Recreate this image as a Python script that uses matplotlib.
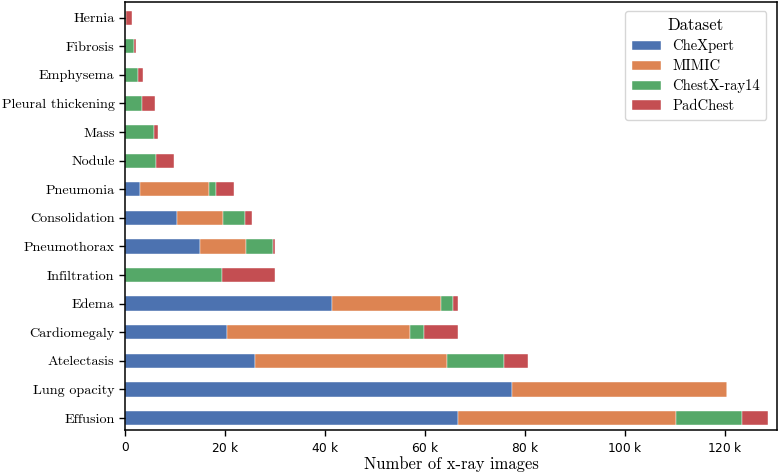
import matplotlib
matplotlib.use("Agg")
import matplotlib.pyplot as plt
import numpy as np
from matplotlib.ticker import EngFormatter

# data, values in thousands (cumulative stacking done below)
pathologies = ["Effusion", "Lung opacity", "Atelectasis", "Cardiomegaly", "Edema",
               "Infiltration", "Pneumothorax", "Consolidation", "Pneumonia", "Nodule",
               "Mass", "Pleural thickening", "Emphysema", "Fibrosis", "Hernia"]
datasets = ["CheXpert", "MIMIC", "ChestX-ray14", "PadChest"]

chexpert = [66.6, 77.3, 26.0, 20.4, 41.3, 0.0, 15.0, 10.3, 3.0, 0.0, 0.0, 0.0, 0.0, 0.0, 0.0]
mimic = [43.6, 43.0, 38.4, 36.6, 21.9, 0.0, 9.2, 9.2, 13.7, 0.0, 0.0, 0.0, 0.0, 0.0, 0.0]
chestxray14 = [13.1, 0.0, 11.3, 2.7, 2.4, 19.4, 5.3, 4.5, 1.4, 6.2, 5.7, 3.3, 2.5, 1.7, 0.1]
padchest = [5.2, 0.0, 4.9, 6.8, 0.9, 10.5, 0.4, 1.3, 3.6, 3.5, 0.8, 2.7, 1.0, 0.5, 1.2]

colors = ["#4C72B0", "#DD8452", "#55A868", "#C44E52"]

plt.rcParams["font.family"] = "cmr10"
plt.rcParams["axes.formatter.use_mathtext"] = True

fig = plt.figure(figsize=(7.78, 4.74), dpi=100)
ax = fig.add_axes([125 / 778, 1 - 430 / 474, 652 / 778, 428 / 474])

y = np.arange(len(pathologies))
left = np.zeros(len(pathologies))
for name, vals, c in zip(datasets, [chexpert, mimic, chestxray14, padchest], colors):
    vals = np.array(vals) * 1000
    ax.barh(y, vals, left=left, height=0.5, color=c, label=name,
            edgecolor="white", linewidth=0.3)
    left += vals

ax.set_yticks(y)
ax.set_yticklabels(pathologies, fontsize=10.2)
ax.set_ylim(-0.42, 14.55)
ax.set_xlim(0, 130400)
ax.xaxis.set_major_formatter(EngFormatter(sep=" "))
for lab in ax.get_xticklabels():
    lab.set_family("DejaVu Sans")
    lab.set_fontsize(8.7)
ax.tick_params(axis="both", length=4, width=1, colors="black")
ax.tick_params(axis="x", pad=4)
for s in ax.spines.values():
    s.set_linewidth(1.1)
ax.set_xlabel("Number of x-ray images", fontsize=11.9, labelpad=1)

leg = ax.legend(title="Dataset", loc="upper right", fontsize=10.5, title_fontsize=12,
                fancybox=True, framealpha=0.8, edgecolor="#cccccc",
                handlelength=2.0, handleheight=0.6, handletextpad=0.75,
                borderpad=0.45, labelspacing=0.42,
                bbox_to_anchor=(0.995, 0.995))

fig.savefig("out.png", dpi=100)
